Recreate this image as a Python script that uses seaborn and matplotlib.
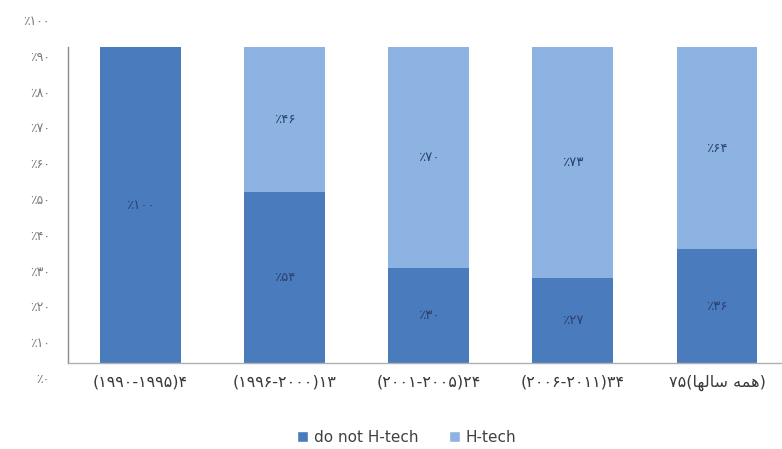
import numpy as np
import pandas as pd
import matplotlib
matplotlib.use("Agg")
import matplotlib.pyplot as plt
import seaborn as sns
from matplotlib.patches import Patch

# ---- data ----
categories = ["(۱۹۹۰-۱۹۹۵)۴", "(۱۹۹۶-۲۰۰۰)۱۳", "(۲۰۰۱-۲۰۰۵)۲۴", "(۲۰۰۶-۲۰۱۱)۳۴",
              "۷۵(" + "\uFE8E\uFEEC\uFEDF\uFE8E\uFEB3" + " " + "\uFEEA\uFEE4\uFEEB" + ")"]
not_htech = [100, 54, 30, 27, 36]
htech = [0, 46, 70, 73, 64]
ytick_labels = ["٪۰", "٪۱۰", "٪۲۰", "٪۳۰", "٪۴۰", "٪۵۰", "٪۶۰", "٪۷۰", "٪۸۰", "٪۹۰", "٪۱۰۰"]
series_names = ["do not H-tech", "H-tech"]

DARK = "#4a7bbd"
LIGHT = "#8db3e2"

def fa(n):
    return str(n).translate(str.maketrans("0123456789", "۰۱۲۳۴۵۶۷۸۹"))

sns.set_theme(style="white")
plt.rcParams["font.family"] = ["DejaVu Sans"]

df = pd.DataFrame({"cat": categories, "not": not_htech, "ht": htech})
df["total"] = df["not"] + df["ht"]

fig = plt.figure(figsize=(7.82, 4.49), dpi=100)
ax = fig.add_axes([68 / 782, (449 - 378) / 449, 1 - 68 / 782, 358 / 449])

sns.barplot(data=df, x="cat", y="total", color=LIGHT, width=0.56, ax=ax,
            saturation=1, order=categories, linewidth=0, edgecolor="none")
sns.barplot(data=df, x="cat", y="not", color=DARK, width=0.56, ax=ax,
            saturation=1, order=categories, linewidth=0, edgecolor="none")

ax.set_xlim(-0.5, 4.45)
ax.set_ylim(-4.7, 108.5)

# value labels
for i, (a, b) in enumerate(zip(not_htech, htech)):
    ax.text(i, a / 2, "٪" + fa(a), ha="center", va="center", fontsize=9.5,
            color="#2b4170")
    if b > 0:
        ax.text(i, a + b / 2, "٪" + fa(b), ha="center", va="center", fontsize=9.5,
                color="#2b4170")

# axes styling
for s in ["top", "right"]:
    ax.spines[s].set_visible(False)
ax.spines["left"].set_bounds(0, 100)
ax.spines["left"].set_color("#8c8c8c")
ax.spines["left"].set_linewidth(1.0)
ax.spines["bottom"].set_position(("data", 0))
ax.spines["bottom"].set_color("#b0b0b0")
ax.spines["bottom"].set_linewidth(1.0)

ax.set_yticks(np.linspace(-4.7, 108.5, len(ytick_labels)))
ax.set_yticklabels(ytick_labels, fontsize=9, color="#7a7a7a")
ax.tick_params(axis="y", length=0, pad=13)
ax.tick_params(axis="x", length=0, pad=8, labelsize=11.5, labelcolor="#3a3a3a")
ax.set_xlabel("")
ax.set_ylabel("")
ax.grid(False)

handles = [Patch(facecolor=DARK, label=series_names[0]),
           Patch(facecolor=LIGHT, label=series_names[1])]
fig.legend(handles=handles, loc="center", bbox_to_anchor=(0.52, (449 - 437) / 449),
           ncol=2, frameon=False, fontsize=11, handlelength=0.7, handleheight=0.7,
           handletextpad=0.4, columnspacing=2.0, labelcolor="#404040")

fig.savefig("out.png", dpi=100)
